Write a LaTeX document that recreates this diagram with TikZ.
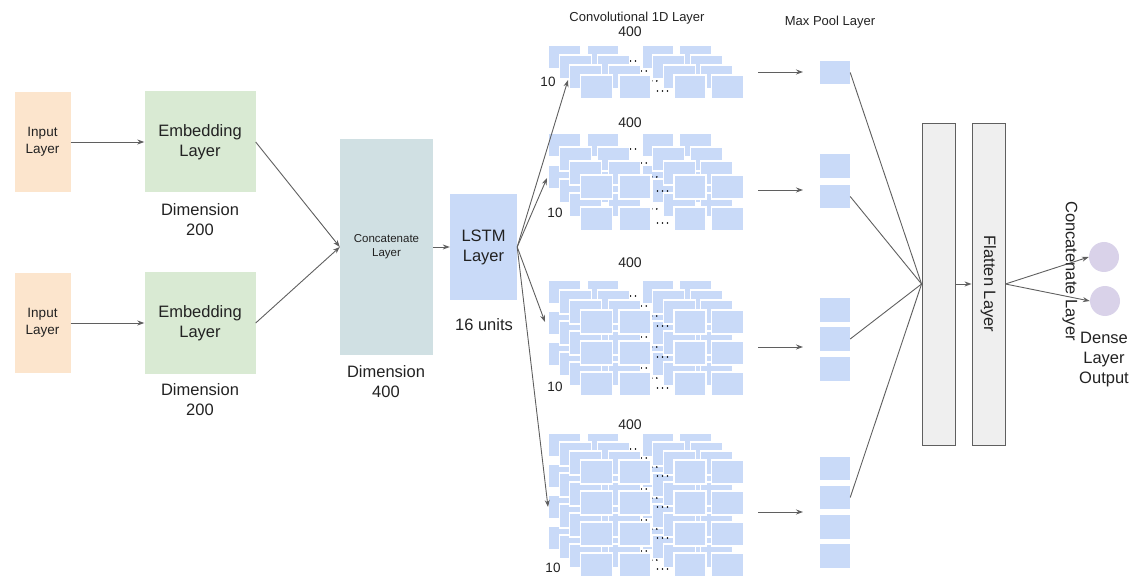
\documentclass[tikz,border=0pt]{standalone}
\usepackage{fontspec}
\setmainfont{Liberation Sans}
\usetikzlibrary{arrows.meta}
\definecolor{tileblue}{HTML}{C9DAF8}
\definecolor{inorange}{HTML}{FCE5CD}
\definecolor{embgreen}{HTML}{D9EAD3}
\definecolor{catcyan}{HTML}{D0E0E3}
\definecolor{flatgray}{HTML}{EFEFEF}
\definecolor{dpurple}{HTML}{D9D2E9}
\definecolor{linegray}{HTML}{5F5F5F}
\definecolor{txt}{HTML}{222222}
\tikzset{
  box/.style={draw=none, inner sep=0pt, align=center, text=txt},
  lbl/.style={inner sep=0pt, align=center, text=txt},
  big/.style={font=\fontsize{16.5}{20}\selectfont},
  mid/.style={font=\fontsize{13.5}{17}\selectfont},
  small/.style={font=\fontsize{11.5}{14}\selectfont},
  conn/.style={draw=linegray, line width=0.9pt, -{Stealth[length=7pt,width=5pt]}},
  plainline/.style={draw=linegray, line width=0.9pt},
  tile/.style={fill=tileblue, draw=white, line width=1.2pt},
  pool/.style={fill=tileblue, draw=none, minimum width=30pt, minimum height=23.5pt, inner sep=0pt},
  flat/.style={fill=flatgray, draw=linegray, line width=0.9pt, minimum width=33pt, minimum height=322pt, inner sep=0pt},
  dense/.style={circle, fill=dpurple, draw=none, minimum size=30pt, inner sep=0pt},
}
\newcommand{\convstack}[4]{%
  \foreach \ly in {0,1,2,3}{%
    \foreach \rw in {1,...,#2}{%
      \foreach \cl in {0,38.5,93.5,131}{%
        \path[tile] ({548.5+\cl+10.67*\ly}, {#1+#4*\ly+(\rw-1)*#3}) rectangle ++(32,24);
      }%
      \foreach \dd in {-5,0,5}{%
        \fill[black] ({630.5+\dd+10.67*\ly}, {#1+#4*\ly+(\rw-1)*#3+16}) circle (0.9pt);
      }%
    }%
  }%
}
\begin{document}
\begin{tikzpicture}[x=1pt, y=-1pt]
\useasboundingbox (0,0) rectangle (1132,577);

% left part
\node[box, mid, fill=inorange, minimum width=56pt, minimum height=100pt] (in1) at (42.5,142) {Input\\Layer};
\node[box, mid, fill=inorange, minimum width=56pt, minimum height=100pt] (in2) at (42.5,323) {Input\\Layer};
\node[box, big, fill=embgreen, minimum width=111pt, minimum height=101pt] (emb1) at (200,142) {Embedding\\Layer};
\node[box, big, fill=embgreen, minimum width=111pt, minimum height=101pt] (emb2) at (200,323) {Embedding\\Layer};
\node[lbl, big] (d1) at (200,220) {Dimension\\200};
\node[lbl, big] (d2) at (200,400) {Dimension\\200};
\node[box, small, fill=catcyan, minimum width=93pt, minimum height=216pt] (cat) at (386.5,247) {Concatenate\\Layer};
\node[lbl, big] (d3) at (386,382) {Dimension\\400};
\node[box, big, fill=tileblue, minimum width=67pt, minimum height=106pt] (lstm) at (483.5,247) {LSTM\\Layer};
\node[lbl, big] (units) at (484,325) {16 units};

\draw[conn] (in1.east) -- (emb1.west);
\draw[conn] (in2.east) -- (emb2.west);
\draw[conn] (emb1.east) -- (cat.west);
\draw[conn] (emb2.east) -- (cat.west);
\draw[conn] (cat.east) -- (lstm.west);

% conv stacks
\convstack{45}{1}{31}{10}
\convstack{133}{2}{32}{14}
\convstack{280}{3}{31}{10}
\convstack{433}{4}{31}{9}

\node[lbl, font=\fontsize{13}{15}\selectfont] (convt) at (637,18) {Convolutional 1D Layer};
\foreach \yy/\nm in {32/n1,123/n2,263/n3,425/n4}{
  \node[lbl, font=\fontsize{14}{16}\selectfont] (\nm) at (630,\yy) {400};
}
\node[lbl, font=\fontsize{13.5}{16}\selectfont] (t1) at (548,82) {10};
\node[lbl, font=\fontsize{13.5}{16}\selectfont] (t2) at (555,213) {10};
\node[lbl, font=\fontsize{13.5}{16}\selectfont] (t3) at (555,387) {10};
\node[lbl, font=\fontsize{13.5}{16}\selectfont] (t4) at (553,568) {10};

\coordinate (s1) at (568,80);
\coordinate (s2) at (547,178);
\coordinate (s3) at (545,322);
\coordinate (s4) at (548,507);
\foreach \s in {s1,s2,s3,s4}{
  \draw[conn] (lstm.east) -- (\s);
}

% max pool
\node[lbl, font=\fontsize{13}{15}\selectfont] (mpt) at (830,22) {Max Pool Layer};
\node[pool] (mp1) at (835,72.5) {};
\node[pool] (mp2a) at (835,166) {};
\node[pool] (mp2b) at (835,196.5) {};
\node[pool] (mp3a) at (835,310) {};
\node[pool] (mp3b) at (835,339) {};
\node[pool] (mp3c) at (835,369) {};
\node[pool] (mp4a) at (835,468.5) {};
\node[pool] (mp4b) at (835,497.5) {};
\node[pool] (mp4c) at (835,527) {};
\node[pool] (mp4d) at (835,556) {};

\foreach \yy/\nm in {72/h1,190/h2,347/h3,512/h4}{
  \coordinate (\nm s) at (758,\yy);
  \coordinate (\nm e) at (803,\yy);
  \draw[conn] (\nm s) -- (\nm e);
}

% flatten
\node[flat] (fl1) at (938.5,284) {};
\node[flat] (fl2) at (988.5,284) {};
\node[lbl, big, rotate=-90] (flt) at (fl2.center) {Flatten Layer};
\foreach \m in {mp1,mp2b,mp3b,mp4b}{
  \draw[plainline] (\m.east) -- (fl1.west);
}
\draw[conn] (fl1.east) -- (fl2.west);

% output
\node[dense] (c1) at (1104,257) {};
\node[dense] (c2) at (1105,301) {};
\draw[conn] (fl2.east) -- (c1.west);
\draw[conn] (fl2.east) -- (c2.west);
\node[lbl, big, rotate=-90] (cat2) at (1070,271) {Concatenate Layer};
\node[lbl, big] (dense) at (1104,360) {Dense\\Layer\\Output};
\end{tikzpicture}
\end{document}
